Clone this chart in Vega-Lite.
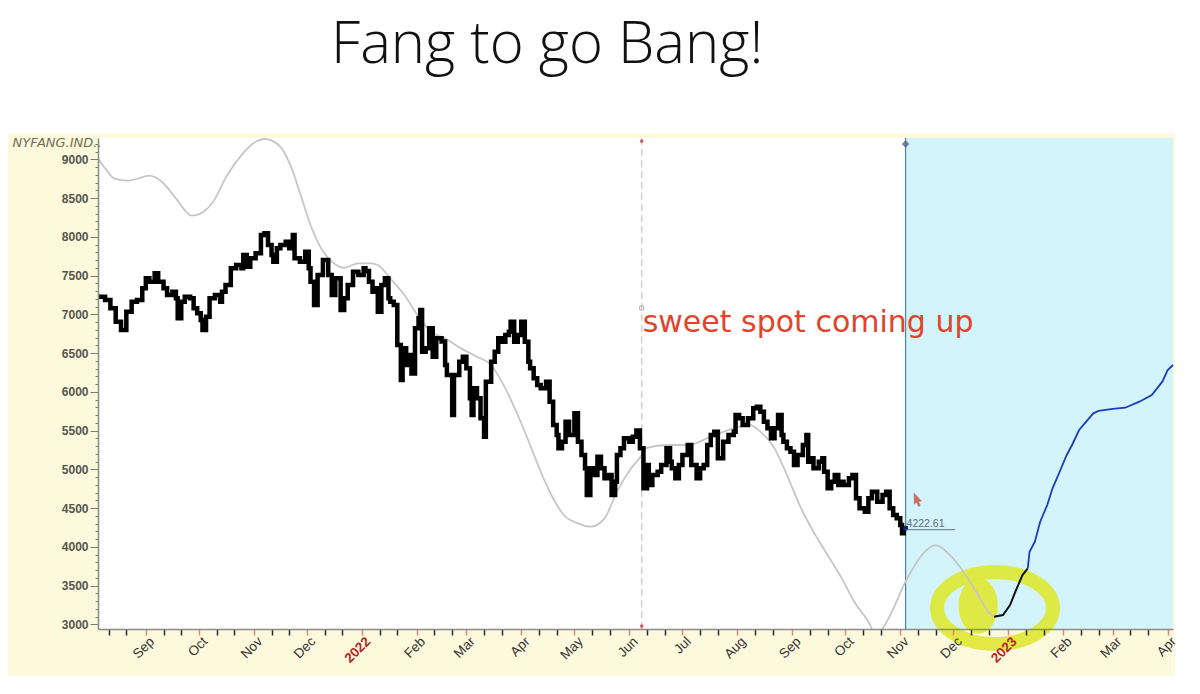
{
  "$schema": "https://vega.github.io/schema/vega-lite/v6.json",
  "width": 1075,
  "height": 491,
  "autosize": "none",
  "padding": {"left": 98, "top": 138, "right": 27, "bottom": 65},
  "background": "white",
  "config": {"view": {"stroke": null, "fill": null}, "font": "Liberation Sans"},
  "title": {"text": "Fang to go Bang!", "anchor": "start", "frame": "group", "dx": 233, "offset": 12, "baseline": "alphabetic", "font": "Open Sans", "fontSize": 58, "fontWeight": 300, "color": "#111111"},
  "datasets": {
    "price": [
      {"d":"2021-08-05","v":7227},{"d":"2021-08-09","v":7185},{"d":"2021-08-12","v":7077},{"d":"2021-08-15","v":6905},{"d":"2021-08-18","v":6797},{"d":"2021-08-21","v":7034},{"d":"2021-08-24","v":7163},{"d":"2021-08-27","v":7185},{"d":"2021-08-30","v":7335},
      {"d":"2021-09-01","v":7465},{"d":"2021-09-03","v":7421},{"d":"2021-09-06","v":7529},{"d":"2021-09-08","v":7421},{"d":"2021-09-11","v":7335},{"d":"2021-09-13","v":7249},{"d":"2021-09-16","v":7292},{"d":"2021-09-18","v":7206},{"d":"2021-09-19","v":6948},{"d":"2021-09-21","v":7163},{"d":"2021-09-23","v":7227},{"d":"2021-09-26","v":7206},{"d":"2021-09-28","v":7077},{"d":"2021-09-30","v":7013},
      {"d":"2021-10-02","v":6926},{"d":"2021-10-03","v":6797},{"d":"2021-10-05","v":6969},{"d":"2021-10-07","v":7206},{"d":"2021-10-10","v":7249},{"d":"2021-10-13","v":7163},{"d":"2021-10-14","v":7292},{"d":"2021-10-16","v":7378},{"d":"2021-10-19","v":7593},{"d":"2021-10-22","v":7636},{"d":"2021-10-25","v":7593},{"d":"2021-10-26","v":7765},{"d":"2021-10-28","v":7615},{"d":"2021-10-30","v":7722},
      {"d":"2021-11-02","v":7787},{"d":"2021-11-05","v":8023},{"d":"2021-11-07","v":8045},{"d":"2021-11-09","v":7894},{"d":"2021-11-11","v":7765},{"d":"2021-11-12","v":7679},{"d":"2021-11-14","v":7851},{"d":"2021-11-16","v":7894},{"d":"2021-11-19","v":7937},{"d":"2021-11-21","v":7851},{"d":"2021-11-23","v":8023},{"d":"2021-11-24","v":7722},{"d":"2021-11-27","v":7679},{"d":"2021-11-30","v":7808},
      {"d":"2021-12-02","v":7593},{"d":"2021-12-03","v":7421},{"d":"2021-12-05","v":7120},{"d":"2021-12-07","v":7507},{"d":"2021-12-10","v":7701},{"d":"2021-12-13","v":7507},{"d":"2021-12-15","v":7249},{"d":"2021-12-17","v":7465},{"d":"2021-12-20","v":7056},{"d":"2021-12-22","v":7206},{"d":"2021-12-24","v":7378},{"d":"2021-12-27","v":7550},{"d":"2021-12-30","v":7507},
      {"d":"2022-01-02","v":7593},{"d":"2022-01-03","v":7560},{"d":"2022-01-05","v":7421},{"d":"2022-01-07","v":7292},{"d":"2022-01-09","v":7335},{"d":"2022-01-10","v":7034},{"d":"2022-01-12","v":7378},{"d":"2022-01-14","v":7465},{"d":"2022-01-16","v":7206},{"d":"2022-01-17","v":7163},{"d":"2022-01-19","v":7120},{"d":"2022-01-21","v":6604},{"d":"2022-01-23","v":6152},{"d":"2022-01-24","v":6561},{"d":"2022-01-26","v":6346},{"d":"2022-01-28","v":6475},{"d":"2022-01-29","v":6238},{"d":"2022-01-31","v":6819},
      {"d":"2022-02-02","v":6948},{"d":"2022-02-03","v":7056},{"d":"2022-02-04","v":6518},{"d":"2022-02-06","v":6561},{"d":"2022-02-08","v":6819},{"d":"2022-02-10","v":6453},{"d":"2022-02-12","v":6690},{"d":"2022-02-15","v":6650},{"d":"2022-02-17","v":6346},{"d":"2022-02-18","v":6217},{"d":"2022-02-21","v":5701},{"d":"2022-02-22","v":6217},{"d":"2022-02-25","v":6389},{"d":"2022-02-27","v":6453},
      {"d":"2022-03-01","v":6303},{"d":"2022-03-03","v":5916},{"d":"2022-03-04","v":5701},{"d":"2022-03-05","v":6045},{"d":"2022-03-07","v":5916},{"d":"2022-03-09","v":5658},{"d":"2022-03-11","v":5421},{"d":"2022-03-12","v":6131},{"d":"2022-03-15","v":6389},{"d":"2022-03-17","v":6518},{"d":"2022-03-19","v":6690},{"d":"2022-03-21","v":6647},{"d":"2022-03-23","v":6733},{"d":"2022-03-25","v":6776},{"d":"2022-03-26","v":6905},{"d":"2022-03-28","v":6647},{"d":"2022-03-30","v":6733},
      {"d":"2022-04-01","v":6905},{"d":"2022-04-03","v":6647},{"d":"2022-04-05","v":6389},{"d":"2022-04-06","v":6303},{"d":"2022-04-08","v":6174},{"d":"2022-04-10","v":6088},{"d":"2022-04-12","v":6045},{"d":"2022-04-15","v":6131},{"d":"2022-04-17","v":5873},{"d":"2022-04-19","v":5572},{"d":"2022-04-21","v":5443},{"d":"2022-04-22","v":5271},{"d":"2022-04-24","v":5357},{"d":"2022-04-26","v":5615},{"d":"2022-04-28","v":5443},
      {"d":"2022-05-01","v":5723},{"d":"2022-05-03","v":5357},{"d":"2022-05-05","v":5185},{"d":"2022-05-07","v":5013},{"d":"2022-05-08","v":4669},{"d":"2022-05-10","v":5013},{"d":"2022-05-12","v":4927},{"d":"2022-05-14","v":5163},{"d":"2022-05-16","v":5013},{"d":"2022-05-18","v":4884},{"d":"2022-05-20","v":4927},{"d":"2022-05-22","v":4669},{"d":"2022-05-24","v":4840},{"d":"2022-05-25","v":5185},{"d":"2022-05-27","v":5271},{"d":"2022-05-29","v":5400},
      {"d":"2022-06-01","v":5357},{"d":"2022-06-03","v":5421},{"d":"2022-06-05","v":5500},{"d":"2022-06-07","v":5271},{"d":"2022-06-09","v":4755},{"d":"2022-06-11","v":5056},{"d":"2022-06-12","v":4798},{"d":"2022-06-14","v":4927},{"d":"2022-06-17","v":4969},{"d":"2022-06-19","v":5056},{"d":"2022-06-22","v":5271},{"d":"2022-06-24","v":5099},{"d":"2022-06-25","v":5013},{"d":"2022-06-27","v":4884},{"d":"2022-06-29","v":5056},
      {"d":"2022-07-01","v":5185},{"d":"2022-07-04","v":5314},{"d":"2022-07-06","v":5056},{"d":"2022-07-09","v":4884},{"d":"2022-07-11","v":5013},{"d":"2022-07-13","v":5056},{"d":"2022-07-15","v":5314},{"d":"2022-07-17","v":5443},{"d":"2022-07-19","v":5486},{"d":"2022-07-21","v":5142},{"d":"2022-07-24","v":5357},{"d":"2022-07-27","v":5443},{"d":"2022-07-30","v":5486},{"d":"2022-07-31","v":5701},
      {"d":"2022-08-02","v":5658},{"d":"2022-08-04","v":5572},{"d":"2022-08-07","v":5658},{"d":"2022-08-10","v":5787},{"d":"2022-08-12","v":5808},{"d":"2022-08-14","v":5744},{"d":"2022-08-16","v":5615},{"d":"2022-08-18","v":5529},{"d":"2022-08-20","v":5400},{"d":"2022-08-22","v":5529},{"d":"2022-08-24","v":5701},{"d":"2022-08-26","v":5443},{"d":"2022-08-27","v":5357},{"d":"2022-08-29","v":5271},{"d":"2022-08-31","v":5228},
      {"d":"2022-09-02","v":5056},{"d":"2022-09-04","v":5185},{"d":"2022-09-07","v":5314},{"d":"2022-09-09","v":5443},{"d":"2022-09-10","v":5099},{"d":"2022-09-12","v":5142},{"d":"2022-09-13","v":5013},{"d":"2022-09-16","v":5099},{"d":"2022-09-18","v":5142},{"d":"2022-09-19","v":4969},{"d":"2022-09-21","v":4755},{"d":"2022-09-23","v":4840},{"d":"2022-09-25","v":4927},{"d":"2022-09-27","v":4798},{"d":"2022-09-29","v":4840},{"d":"2022-09-30","v":4798},
      {"d":"2022-10-03","v":4884},{"d":"2022-10-05","v":4927},{"d":"2022-10-07","v":4626},{"d":"2022-10-09","v":4497},{"d":"2022-10-12","v":4454},{"d":"2022-10-14","v":4626},{"d":"2022-10-16","v":4712},{"d":"2022-10-19","v":4583},{"d":"2022-10-22","v":4669},{"d":"2022-10-24","v":4712},{"d":"2022-10-26","v":4497},{"d":"2022-10-28","v":4411},{"d":"2022-10-30","v":4368},
      {"d":"2022-11-01","v":4282},{"d":"2022-11-02","v":4174},{"d":"2022-11-03","v":4239},{"d":"2022-11-04","v":4222}
    ],
    "cycle": [
      {"d":"2021-08-05","v":9013},{"d":"2021-08-09","v":8884},{"d":"2021-08-14","v":8755},{"d":"2021-08-22","v":8724},{"d":"2021-08-28","v":8755},{"d":"2021-09-03","v":8789},{"d":"2021-09-10","v":8711},{"d":"2021-09-18","v":8497},{"d":"2021-09-27","v":8273},{"d":"2021-10-02","v":8303},{"d":"2021-10-09","v":8453},{"d":"2021-10-17","v":8797},{"d":"2021-10-25","v":9055},{"d":"2021-11-02","v":9227},{"d":"2021-11-07","v":9262},{"d":"2021-11-15","v":9185},{"d":"2021-11-22","v":8904},{"d":"2021-11-28","v":8497},{"d":"2021-12-03","v":8152},{"d":"2021-12-09","v":7851},{"d":"2021-12-15","v":7679},{"d":"2021-12-22","v":7601},{"d":"2021-12-30","v":7658},
      {"d":"2022-01-06","v":7658},{"d":"2022-01-10","v":7636},{"d":"2022-01-17","v":7465},{"d":"2022-01-25","v":7249},{"d":"2022-02-02","v":6969},{"d":"2022-02-09","v":6776},{"d":"2022-02-17","v":6690},{"d":"2022-02-26","v":6561},{"d":"2022-03-07","v":6453},{"d":"2022-03-15","v":6346},{"d":"2022-03-23","v":6045},{"d":"2022-03-30","v":5701},{"d":"2022-04-06","v":5314},{"d":"2022-04-12","v":4969},{"d":"2022-04-18","v":4669},{"d":"2022-04-25","v":4411},{"d":"2022-05-03","v":4303},{"d":"2022-05-10","v":4260},{"d":"2022-05-18","v":4368},{"d":"2022-05-25","v":4712},{"d":"2022-06-02","v":5013},{"d":"2022-06-08","v":5185},{"d":"2022-06-10","v":5271},{"d":"2022-06-23","v":5314},{"d":"2022-07-04","v":5314},{"d":"2022-07-17","v":5421},{"d":"2022-07-30","v":5529},{"d":"2022-08-08","v":5572},{"d":"2022-08-14","v":5486},{"d":"2022-08-22","v":5271},{"d":"2022-08-29","v":4927},{"d":"2022-09-06","v":4497},{"d":"2022-09-13","v":4195},{"d":"2022-09-21","v":3894},{"d":"2022-09-29","v":3593},{"d":"2022-10-06","v":3292},{"d":"2022-10-14","v":3034},{"d":"2022-10-18","v":2880},{"d":"2022-10-22","v":2948},{"d":"2022-10-29","v":3249},{"d":"2022-11-03","v":3507},{"d":"2022-11-06","v":3636},{"d":"2022-11-14","v":3916},{"d":"2022-11-21","v":4023},{"d":"2022-11-29","v":3894},{"d":"2022-12-08","v":3636},{"d":"2022-12-16","v":3335},{"d":"2022-12-21","v":3150},{"d":"2022-12-24","v":3098}
    ],
    "projBlack": [
      {"d":"2022-12-24","v":3098},{"d":"2022-12-29","v":3120},{"d":"2023-01-02","v":3249},{"d":"2023-01-05","v":3421},{"d":"2023-01-09","v":3636},{"d":"2023-01-12","v":3722}
    ],
    "projBlue": [
      {"d":"2023-01-12","v":3722},{"d":"2023-01-13","v":3937},{"d":"2023-01-16","v":4066},{"d":"2023-01-19","v":4324},{"d":"2023-01-23","v":4540},{"d":"2023-01-26","v":4755},{"d":"2023-01-30","v":4969},{"d":"2023-02-03","v":5185},{"d":"2023-02-06","v":5314},{"d":"2023-02-10","v":5507},{"d":"2023-02-14","v":5615},{"d":"2023-02-18","v":5723},{"d":"2023-02-21","v":5753},{"d":"2023-03-01","v":5779},{"d":"2023-03-08","v":5795},{"d":"2023-03-16","v":5873},{"d":"2023-03-23","v":5959},{"d":"2023-03-29","v":6131},{"d":"2023-04-01","v":6282},{"d":"2023-04-04","v":6346}
    ]
  },
  "layer": [
    {
      "data": {"values": [{}]},
      "mark": {"type": "rect", "fill": "#fdf9dc", "clip": false},
      "encoding": {
        "x": {"datum": {"year": 2021, "month": 6, "date": 15, "utc": true}, "type": "temporal", "scale": {"type": "utc"}},
        "x2": {"datum": {"year": 2023, "month": 4, "date": 5, "utc": true}},
        "y": {"datum": 9339, "type": "quantitative"},
        "y2": {"datum": 2333}
      }
    },
    {
      "data": {"values": [{}]},
      "mark": {"type": "rect", "fill": "#ffffff"},
      "encoding": {
        "x": {"datum": {"year": 2021, "month": 8, "date": 5, "utc": true}, "type": "temporal", "scale": {"type": "utc"}},
        "x2": {"datum": {"year": 2023, "month": 4, "date": 4, "utc": true}},
        "y": {"datum": 9275, "type": "quantitative"},
        "y2": {"datum": 2940}
      }
    },
    {
      "data": {"values": [{}]},
      "mark": {"type": "rect", "fill": "#d3f4fa"},
      "encoding": {
        "x": {"datum": {"year": 2022, "month": 11, "date": 4, "utc": true}, "type": "temporal", "scale": {"type": "utc"}},
        "x2": {"datum": {"year": 2023, "month": 4, "date": 4, "utc": true}},
        "y": {"datum": 9275, "type": "quantitative"},
        "y2": {"datum": 2940}
      }
    },
    {
      "data": {"values": [{}]},
      "mark": {"type": "rule", "color": "#dcc6c6", "strokeWidth": 1.3, "strokeDash": [7, 4]},
      "encoding": {
        "x": {"datum": {"year": 2022, "month": 6, "date": 8, "utc": true}, "type": "temporal", "scale": {"type": "utc"}}
      }
    },
    {
      "data": {"values": [{}]},
      "mark": {"type": "rule", "color": "#4f8a97", "strokeWidth": 1.3},
      "encoding": {
        "x": {"datum": {"year": 2022, "month": 11, "date": 4, "utc": true}, "type": "temporal", "scale": {"type": "utc"}}
      }
    },
    {
      "data": {"values": [{}]},
      "mark": {"type": "point", "shape": "M -1 0 A 1 0.62 0 1 1 1 0 A 1 0.62 0 1 1 -1 0 Z", "filled": false, "stroke": "#dfe832", "strokeWidth": 14, "opacity": 0.9, "size": 13456, "clip": false},
      "encoding": {
        "x": {"datum": {"year": 2022, "month": 12, "date": 24, "hours": 12, "utc": true}, "type": "temporal", "scale": {"type": "utc"}},
        "y": {"datum": 3210, "type": "quantitative"}
      }
    },
    {
      "data": {"values": [{}]},
      "mark": {"type": "point", "shape": "M -0.7 0 A 0.7 1 0 1 1 0.7 0 A 0.7 1 0 1 1 -0.7 0 Z", "filled": true, "fill": "#dfe832", "opacity": 0.9, "size": 3136, "clip": false},
      "encoding": {
        "x": {"datum": {"year": 2022, "month": 12, "date": 15, "utc": true}, "type": "temporal", "scale": {"type": "utc"}},
        "y": {"datum": 3240, "type": "quantitative"}
      }
    },
    {
      "data": {"name": "cycle"},
      "mark": {"type": "line", "color": "#c6c6c6", "strokeWidth": 1.8, "interpolate": "monotone", "clip": true},
      "encoding": {
        "x": {
          "field": "d", "type": "temporal",
          "scale": {"type": "utc", "domain": [{"year": 2021, "month": 8, "date": 5, "utc": true}, {"year": 2023, "month": 4, "date": 4, "utc": true}]},
          "axis": {
            "title": null, "zindex": 1, "grid": false, "tickCount": 500,
            "domainColor": "#8a8a8a", "domainWidth": 1.5,
            "tickSize": 6, "tickWidth": 1.5,
            "tickColor": {"condition": {"test": "utcdate(datum.value) == 1", "value": "#e08282"}, "value": "#2a2a2a"},
            "values": [
              {"year":2021,"month":8,"date":11,"utc":true},{"year":2021,"month":8,"date":21,"utc":true},
              {"year":2021,"month":9,"date":1,"utc":true},{"year":2021,"month":9,"date":11,"utc":true},{"year":2021,"month":9,"date":21,"utc":true},
              {"year":2021,"month":10,"date":1,"utc":true},{"year":2021,"month":10,"date":11,"utc":true},{"year":2021,"month":10,"date":21,"utc":true},
              {"year":2021,"month":11,"date":1,"utc":true},{"year":2021,"month":11,"date":11,"utc":true},{"year":2021,"month":11,"date":21,"utc":true},
              {"year":2021,"month":12,"date":1,"utc":true},{"year":2021,"month":12,"date":11,"utc":true},{"year":2021,"month":12,"date":21,"utc":true},
              {"year":2022,"month":1,"date":1,"utc":true},{"year":2022,"month":1,"date":11,"utc":true},{"year":2022,"month":1,"date":21,"utc":true},
              {"year":2022,"month":2,"date":1,"utc":true},{"year":2022,"month":2,"date":11,"utc":true},{"year":2022,"month":2,"date":21,"utc":true},
              {"year":2022,"month":3,"date":1,"utc":true},{"year":2022,"month":3,"date":11,"utc":true},{"year":2022,"month":3,"date":21,"utc":true},
              {"year":2022,"month":4,"date":1,"utc":true},{"year":2022,"month":4,"date":11,"utc":true},{"year":2022,"month":4,"date":21,"utc":true},
              {"year":2022,"month":5,"date":1,"utc":true},{"year":2022,"month":5,"date":11,"utc":true},{"year":2022,"month":5,"date":21,"utc":true},
              {"year":2022,"month":6,"date":1,"utc":true},{"year":2022,"month":6,"date":11,"utc":true},{"year":2022,"month":6,"date":21,"utc":true},
              {"year":2022,"month":7,"date":1,"utc":true},{"year":2022,"month":7,"date":11,"utc":true},{"year":2022,"month":7,"date":21,"utc":true},
              {"year":2022,"month":8,"date":1,"utc":true},{"year":2022,"month":8,"date":11,"utc":true},{"year":2022,"month":8,"date":21,"utc":true},
              {"year":2022,"month":9,"date":1,"utc":true},{"year":2022,"month":9,"date":11,"utc":true},{"year":2022,"month":9,"date":21,"utc":true},
              {"year":2022,"month":10,"date":1,"utc":true},{"year":2022,"month":10,"date":11,"utc":true},{"year":2022,"month":10,"date":21,"utc":true},
              {"year":2022,"month":11,"date":1,"utc":true},{"year":2022,"month":11,"date":11,"utc":true},{"year":2022,"month":11,"date":21,"utc":true},
              {"year":2022,"month":12,"date":1,"utc":true},{"year":2022,"month":12,"date":11,"utc":true},{"year":2022,"month":12,"date":21,"utc":true},
              {"year":2023,"month":1,"date":1,"utc":true},{"year":2023,"month":1,"date":11,"utc":true},{"year":2023,"month":1,"date":21,"utc":true},
              {"year":2023,"month":2,"date":1,"utc":true},{"year":2023,"month":2,"date":11,"utc":true},{"year":2023,"month":2,"date":21,"utc":true},
              {"year":2023,"month":3,"date":1,"utc":true},{"year":2023,"month":3,"date":11,"utc":true},{"year":2023,"month":3,"date":21,"utc":true},
              {"year":2023,"month":4,"date":1,"utc":true}
            ],
            "labelExpr": "utcdate(datum.value) == 1 ? (utcmonth(datum.value) == 0 ? utcFormat(datum.value, '%Y') : utcFormat(datum.value, '%b')) : ''",
            "labelAngle": -45, "labelAlign": "right", "labelBaseline": "middle",
            "labelFont": "Liberation Sans", "labelFontSize": 13.5, "labelPadding": 4, "labelOffset": 6,
            "labelColor": {"condition": {"test": "utcmonth(datum.value) == 0", "value": "#b8242a"}, "value": "#333333"},
            "labelFontWeight": {"condition": {"test": "utcmonth(datum.value) == 0", "value": "bold"}, "value": "normal"},
            "labelOverlap": false, "labelFlush": false, "labelBound": false
          }
        },
        "y": {
          "field": "v", "type": "quantitative",
          "scale": {"domain": [2940, 9275], "nice": false, "zero": false},
          "axis": {
            "title": "NYFANG.IND..", "titleAngle": 0, "titleAlign": "left", "titleBaseline": "alphabetic",
            "titleX": -86, "titleY": 8, "titleFont": "DejaVu Sans", "titleFontSize": 13, "titleFontStyle": "italic", "titleFontWeight": "normal", "titleColor": "#6e6e58",
            "zindex": 1, "grid": false, "tickCount": 500,
            "domainColor": "#8a8a80", "domainWidth": 1.5,
            "tickColor": "#7a7a70", "tickWidth": 1,
            "tickSize": {"condition": {"test": "datum.value % 500 == 0", "value": 8}, "value": 3},
            "values": [3000,3100,3200,3300,3400,3500,3600,3700,3800,3900,4000,4100,4200,4300,4400,4500,4600,4700,4800,4900,5000,5100,5200,5300,5400,5500,5600,5700,5800,5900,6000,6100,6200,6300,6400,6500,6600,6700,6800,6900,7000,7100,7200,7300,7400,7500,7600,7700,7800,7900,8000,8100,8200,8300,8400,8500,8600,8700,8800,8900,9000,9100,9200],
            "labelExpr": "datum.value % 500 == 0 ? '' + datum.value : ''",
            "labelFont": "Liberation Sans", "labelFontSize": 12, "labelFontWeight": "bold", "labelColor": "#55554d",
            "labelPadding": 2, "labelOverlap": false, "labelFlush": false
          }
        }
      }
    },
    {
      "data": {"name": "price"},
      "mark": {"type": "line", "color": "#000000", "strokeWidth": 4.5, "interpolate": "step-after", "clip": true},
      "encoding": {
        "x": {"field": "d", "type": "temporal", "scale": {"type": "utc"}},
        "y": {"field": "v", "type": "quantitative"}
      }
    },
    {
      "data": {"name": "projBlack"},
      "mark": {"type": "line", "color": "#111111", "strokeWidth": 2},
      "encoding": {
        "x": {"field": "d", "type": "temporal", "scale": {"type": "utc"}},
        "y": {"field": "v", "type": "quantitative"}
      }
    },
    {
      "data": {"name": "projBlue"},
      "mark": {"type": "line", "color": "#1a3cc0", "strokeWidth": 1.8},
      "encoding": {
        "x": {"field": "d", "type": "temporal", "scale": {"type": "utc"}},
        "y": {"field": "v", "type": "quantitative"}
      }
    },
    {
      "data": {"values": [{}]},
      "mark": {"type": "point", "shape": "circle", "filled": true, "fill": "#c03030", "size": 14},
      "encoding": {
        "x": {"datum": {"year": 2022, "month": 6, "date": 8, "utc": true}, "type": "temporal", "scale": {"type": "utc"}},
        "y": {"datum": 9236, "type": "quantitative"}
      }
    },
    {
      "data": {"values": [{}]},
      "mark": {"type": "point", "shape": "circle", "filled": true, "fill": "#c03030", "size": 14},
      "encoding": {
        "x": {"datum": {"year": 2022, "month": 6, "date": 8, "utc": true}, "type": "temporal", "scale": {"type": "utc"}},
        "y": {"datum": 2978, "type": "quantitative"}
      }
    },
    {
      "data": {"values": [{}]},
      "mark": {"type": "point", "shape": "square", "filled": false, "stroke": "#a08a8a", "strokeWidth": 1, "size": 16},
      "encoding": {
        "x": {"datum": {"year": 2022, "month": 6, "date": 8, "utc": true}, "type": "temporal", "scale": {"type": "utc"}},
        "y": {"datum": 7081, "type": "quantitative"}
      }
    },
    {
      "data": {"values": [{}]},
      "mark": {"type": "point", "shape": "diamond", "filled": true, "fill": "#3a56a8", "stroke": "#a04848", "strokeWidth": 0.8, "size": 50},
      "encoding": {
        "x": {"datum": {"year": 2022, "month": 11, "date": 4, "utc": true}, "type": "temporal", "scale": {"type": "utc"}},
        "y": {"datum": 9197, "type": "quantitative"}
      }
    },
    {
      "data": {"values": [{}]},
      "mark": {"type": "rule", "color": "#7a8a96", "strokeWidth": 1.2},
      "encoding": {
        "x": {"datum": {"year": 2022, "month": 11, "date": 4, "utc": true}, "type": "temporal", "scale": {"type": "utc"}},
        "x2": {"datum": {"year": 2022, "month": 12, "date": 2, "utc": true}},
        "y": {"datum": 4222.61, "type": "quantitative"}
      }
    },
    {
      "data": {"values": [{}]},
      "mark": {"type": "point", "shape": "circle", "filled": true, "fill": "#1a2fa0", "size": 26},
      "encoding": {
        "x": {"datum": {"year": 2022, "month": 11, "date": 4, "utc": true}, "type": "temporal", "scale": {"type": "utc"}},
        "y": {"datum": 4240, "type": "quantitative"}
      }
    },
    {
      "data": {"values": [{}]},
      "mark": {"type": "text", "text": "4222.61", "align": "left", "baseline": "alphabetic", "dx": 1, "dy": -3, "font": "Liberation Sans", "fontSize": 10.5, "color": "#5a6a7a"},
      "encoding": {
        "x": {"datum": {"year": 2022, "month": 11, "date": 4, "utc": true}, "type": "temporal", "scale": {"type": "utc"}},
        "y": {"datum": 4222.61, "type": "quantitative"}
      }
    },
    {
      "data": {"values": [{}]},
      "mark": {"type": "point", "shape": "M -0.5 -0.9 L -0.5 0.55 L -0.18 0.25 L 0.08 0.85 L 0.3 0.75 L 0.04 0.15 L 0.45 0.15 Z", "filled": true, "fill": "#d8321e", "stroke": "#8a2010", "strokeWidth": 0.5, "size": 225},
      "encoding": {
        "x": {"datum": {"year": 2022, "month": 11, "date": 11, "utc": true}, "type": "temporal", "scale": {"type": "utc"}},
        "y": {"datum": 4604, "type": "quantitative"}
      }
    },
    {
      "data": {"values": [{}]},
      "mark": {"type": "text", "text": "sweet spot coming up", "align": "left", "baseline": "alphabetic", "dx": 1, "font": "DejaVu Sans", "fontSize": 30, "color": "#e2432b"},
      "encoding": {
        "x": {"datum": {"year": 2022, "month": 6, "date": 8, "utc": true}, "type": "temporal", "scale": {"type": "utc"}},
        "y": {"datum": 6768, "type": "quantitative"}
      }
    }
  ]
}
